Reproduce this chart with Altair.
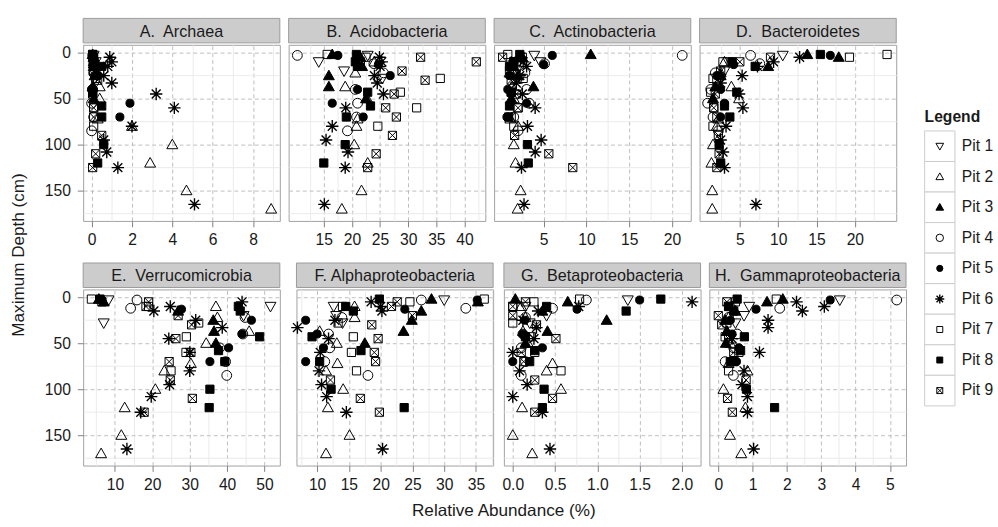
import altair as alt
import pandas as pd

FONT = "Liberation Sans"

pits = [f"Pit {i}" for i in range(1, 10)]

# sampling depths (cm) of each pit
depths = {
    1: [3, 10, 20, 28],
    2: [10, 22, 37, 50, 72, 80, 100, 120, 150, 170],
    3: [2, 5, 15, 25, 37, 50],
    4: [3, 12, 22, 40, 55, 70, 85],
    5: [3, 13, 25, 40, 55, 70],
    6: [5, 10, 15, 25, 33, 45, 60, 80, 95, 108, 125, 165],
    7: [2, 5, 10, 28, 43, 60, 80],
    8: [2, 10, 15, 43, 58, 70, 100, 120],
    9: [5, 10, 20, 30, 45, 60, 70, 90, 110, 125],
}

archaea = {
    1: [0.1, 0.2, 0.1, 0.15],
    2: [0.1, 0.2, 0.4, 0.4, 0.3, 2.0, 4.0, 2.9, 4.7, 8.9],
    3: [0.05, 0.1, 0.1, 0.15, 0.05, 0.1],
    4: [0.05, 0.1, 0.1, 0.05, 0.0, 0.1, 0.0],
    5: [0.05, 0.1, 0.3, 0.0, 1.9, 1.4],
    6: [0.9, 1.0, 0.8, 0.6, 1.0, 3.2, 4.1, 2.0, 0.6, 0.75, 1.3, 5.1],
    7: [0.05, 0.1, 0.1, 0.2, 0.05, 0.1, 0.1],
    8: [0.05, 0.1, 0.5, 0.05, 0.5, 0.5, 0.6, 0.3],
    9: [0.05, 0.1, 0.1, 0.3, 0.05, 0.1, 0.1, 0.5, 0.2, 0.05],
}
acidobacteria = {
    1: [22.8, 14.1, 18.6, 25.4],
    2: [24.0, 20.6, 18.8, 22.7, 21.0, 20.8, 20.4, 22.8, 21.7, 18.2],
    3: [16.5, 21.5, 21.8, 15.9, 15.9, 22.5],
    4: [10.3, 23.9, 25.6, 20.6, 21.0, 20.8, 19.2],
    5: [17.5, 24.7, 26.8, 21.0, 16.5, 22.0],
    6: [24.9, 25.3, 25.0, 24.0, 24.5, 25.6, 18.9, 16.5, 15.4, 19.3, 18.8, 15.1],
    7: [15.6, 22.5, 21.5, 35.7, 28.6, 31.5, 24.6],
    8: [20.8, 20.6, 21.0, 22.8, 23.3, 19.0, 18.8, 15.0],
    9: [32.2, 42.1, 28.9, 33.0, 27.5, 26.0, 27.9, 27.2, 24.3, 22.8],
}
actinobacteria = {
    1: [3.9, 4.6, 1.8, 2.2],
    2: [1.2, 1.0, 1.3, 1.5, 1.1, 2.0, 1.5, 1.7, 2.3, 1.95],
    3: [10.5, 2.5, 1.5, 2.0, 3.8, 1.2],
    4: [21.2, 5.1, 2.8, 3.0, 3.3, 1.5, 2.0],
    5: [6.0, 5.0, 1.0, 0.8, 3.0, 0.7],
    6: [2.3, 2.6, 3.0, 2.2, 1.8, 2.5, 4.0, 3.1, 4.7, 4.0, 2.4, 2.7],
    7: [0.8, 2.5, 1.8, 2.6, 1.2, 2.0, 1.5],
    8: [2.2, 1.5, 1.0, 1.2, 1.0, 0.9, 3.1, 3.2],
    9: [0.2, 1.5, 1.0, 1.2, 1.8, 2.0, 1.2, 1.6, 5.6, 8.4],
}
bacteroidetes = {
    1: [10.6, 3.5, 3.0, 2.5],
    2: [3.0, 2.5, 3.9, 4.9, 2.2, 2.0, 1.5, 1.3, 1.4, 1.4],
    3: [13.8, 17.9, 8.7, 2.5, 1.8, 1.5],
    4: [6.4, 7.6, 1.8, 1.2, 0.8, 1.5, 2.2],
    5: [16.8, 4.2, 2.0, 2.5, 3.0, 2.5],
    6: [12.8, 9.4, 7.3, 5.3, 2.5, 4.9, 5.4, 3.2, 2.5, 2.8, 3.0, 7.1],
    7: [24.2, 19.3, 2.8, 1.5, 1.2, 1.6, 1.5],
    8: [15.5, 4.0, 7.0, 4.6, 3.0, 3.7, 2.3, 2.5],
    9: [9.0, 5.0, 2.5, 2.0, 1.8, 1.6, 2.0, 2.2, 2.3, 2.0],
}
verrucomicrobia = {
    1: [8.3, 51.6, 44.4, 7.0],
    2: [37.0, 37.4, 45.9, 34.4, 30.3, 23.2, 20.8, 12.6, 11.7, 6.3],
    3: [5.7, 7.0, 26.9, 36.3, 36.5, 37.0],
    4: [15.9, 14.2, 44.8, 44.2, 38.0, 39.6, 39.9],
    5: [6.5, 27.8, 46.5, 44.0, 40.4, 35.4],
    6: [44.0, 24.8, 20.4, 31.6, 38.7, 24.4, 30.0, 30.0, 24.6, 19.7, 16.9, 13.2],
    7: [3.7, 6.5, 19.0, 32.4, 29.1, 29.0, 25.0],
    8: [6.0, 43.0, 43.5, 48.7, 37.7, 39.4, 35.4, 35.2],
    9: [19.0, 18.3, 26.9, 30.5, 26.3, 30.3, 24.5, 24.8, 30.7, 17.8],
}
alphaproteobacteria = {
    1: [30.0, 12.6, 13.0, 14.0],
    2: [15.9, 15.9, 10.4, 13.1, 13.2, 11.4, 14.1, 11.7, 15.1, 11.4],
    3: [28.0, 35.3, 26.4, 24.9, 23.6, 17.5],
    4: [26.4, 33.4, 13.9, 11.8, 12.0, 11.2, 18.0],
    5: [35.2, 23.8, 8.2, 10.0, 11.0, 8.2],
    6: [18.5, 20.0, 20.2, 12.8, 6.9, 11.8, 10.5, 10.3, 10.7, 11.5, 14.6, 20.3],
    7: [36.3, 24.6, 14.0, 13.3, 15.7, 15.4, 16.2],
    8: [19.8, 14.5, 15.7, 9.2, 16.9, 10.4, 12.2, 23.7],
    9: [22.6, 21.7, 25.0, 18.6, 19.6, 19.0, 19.2, 12.1, 16.8, 19.8],
}
betaproteobacteria = {
    1: [1.36, 0.15, 0.40, 0.20],
    2: [0.1, 0.15, 0.12, 0.18, 0.47, 0.40, 0.57, 0.11, 0.0, 0.23],
    3: [0.03, 0.65, 0.35, 1.11, 0.41, 0.15],
    4: [0.87, 0.47, 0.15, 0.12, 0.10, 0.15, 0.10],
    5: [1.50, 0.76, 0.14, 0.12, 0.35, 0.0],
    6: [2.12, 0.78, 0.30, 0.12, 0.28, 0.25, 0.0, 0.08, 0.17, 0.0, 0.35, 0.44],
    7: [0.79, 0.25, 0.0, 0.0, 0.22, 0.26, 0.57],
    8: [1.75, 0.40, 1.34, 0.15, 0.26, 0.20, 0.37, 0.35],
    9: [0.15, 0.0, 0.0, 0.28, 0.51, 0.10, 0.13, 0.26, 0.47, 0.26],
}
gammaproteobacteria = {
    1: [3.54, 0.9, 0.75, 0.5],
    2: [0.4, 0.3, 0.25, 0.35, 0.3, 0.85, 0.15, 0.79, 0.34, 0.67],
    3: [1.88, 1.42, 0.5, 0.2, 0.25, 0.22],
    4: [5.2, 1.79, 0.3, 0.55, 0.45, 0.2, 0.44],
    5: [3.26, 1.1, 0.35, 0.4, 0.6, 0.53],
    6: [2.28, 3.09, 2.45, 1.45, 1.45, 0.4, 1.2, 0.75, 0.69, 0.85, 0.85, 1.03],
    7: [1.69, 0.5, 0.3, 0.25, 0.2, 0.6, 0.3],
    8: [0.55, 0.3, 0.45, 0.76, 0.65, 0.35, 0.82, 1.64],
    9: [0.25, 0.3, 0.0, 0.1, 0.3, 0.45, 0.45, 0.81, 0.27, 0.41],
}

panel_titles = [
    "A.\u00a0 Archaea", "B.\u00a0 Acidobacteria", "C.\u00a0 Actinobacteria", "D.\u00a0 Bacteroidetes",
    "E.\u00a0 Verrucomicrobia", "F. Alphaproteobacteria", "G.\u00a0 Betaproteobacteria", "H.\u00a0 Gammaproteobacteria",
]
panel_data = [archaea, acidobacteria, actinobacteria, bacteroidetes,
              verrucomicrobia, alphaproteobacteria, betaproteobacteria, gammaproteobacteria]
x_ticks = [
    [0, 2, 4, 6, 8], [15, 20, 25, 30, 35, 40], [5, 10, 15, 20], [5, 10, 15, 20],
    [10, 20, 30, 40, 50], [10, 15, 20, 25, 30, 35], [0.0, 0.5, 1.0, 1.5, 2.0], [0, 1, 2, 3, 4, 5],
]
x_minor = [
    [1, 3, 5, 7, 9], [12.5, 17.5, 22.5, 27.5, 32.5, 37.5, 42.5], [2.5, 7.5, 12.5, 17.5], [2.5, 7.5, 12.5, 17.5, 22.5],
    [5, 15, 25, 35, 45], [7.5, 12.5, 17.5, 22.5, 27.5, 32.5, 37.5], [0.25, 0.75, 1.25, 1.75], [0.5, 1.5, 2.5, 3.5, 4.5],
]
x_domains = [
    [-0.42, 9.33], [8.75, 43.7], [-0.8, 22.2], [-0.25, 25.4],
    [1.5, 54.1], [6.75, 37.7], [-0.105, 2.22], [-0.26, 5.47],
]
y_major = [0, 50, 100, 150]
y_minor = [25, 75, 125, 175]
y_domain = [-8.5, 183]

shape_paths = [
    "M-1,-0.75L1,-0.75L0,1Z",
    "M-1,0.75L1,0.75L0,-1Z",
    "M-1,0.75L1,0.75L0,-1Z",
    "circle",
    "circle",
    "M-1,0L1,0M0,-1L0,1M-0.72,-0.72L0.72,0.72M-0.72,0.72L0.72,-0.72",
    "M-0.8,-0.8L0.8,-0.8L0.8,0.8L-0.8,0.8Z",
    "M-0.8,-0.8L0.8,-0.8L0.8,0.8L-0.8,0.8Z",
    "M-0.8,-0.8L0.8,-0.8L0.8,0.8L-0.8,0.8ZM-0.8,-0.8L0.8,0.8M-0.8,0.8L0.8,-0.8",
]
fills = ["transparent", "transparent", "black", "transparent", "black",
         "transparent", "transparent", "black", "transparent"]

shape_enc = alt.Shape("pit:N", scale=alt.Scale(domain=pits, range=shape_paths), legend=None)
fill_enc = alt.Fill("pit:N", scale=alt.Scale(domain=pits, range=fills), legend=None)
size_enc = {
    "condition": [
        {"test": "datum.pit == 'Pit 5'", "value": 68},
        {"test": "datum.pit == 'Pit 4'", "value": 100},
        {"test": "datum.pit == 'Pit 6'", "value": 160},
        {"test": "datum.pit == 'Pit 7' || datum.pit == 'Pit 8' || datum.pit == 'Pit 9'", "value": 110},
    ],
    "value": 125,
}
leg_size_enc = {
    "condition": [
        {"test": "datum.pit == 'Pit 5'", "value": 40},
        {"test": "datum.pit == 'Pit 4'", "value": 58},
        {"test": "datum.pit == 'Pit 6'", "value": 85},
        {"test": "datum.pit == 'Pit 7' || datum.pit == 'Pit 8' || datum.pit == 'Pit 9'", "value": 58},
    ],
    "value": 62,
}
stroke_w_enc = {"condition": {"test": "datum.pit == 'Pit 6'", "value": 1.4}, "value": 1}

PW, PH, SH = 201, 180, 25
GRID = "#BDBDBD"
MINOR = "#EBEBEB"
TXT = "#1A1A1A"


def make_df(d):
    rows = []
    for p in range(1, 10):
        for dep, val in zip(depths[p], d[p]):
            rows.append({"pit": f"Pit {p}", "depth": dep, "value": val})
    return pd.DataFrame(rows)


def strip(title):
    df = pd.DataFrame({"t": [title]})
    bg = alt.Chart(df).mark_rect(fill="#CCCCCC", stroke="#9A9A9A", strokeWidth=1).encode(
        x=alt.value(0), x2=alt.value(PW), y=alt.value(0), y2=alt.value(SH))
    tx = alt.Chart(df).mark_text(fontSize=16.5, font=FONT, color=TXT, baseline="middle").encode(
        x=alt.value(PW / 2), y=alt.value(SH / 2 + 1), text="t:N")
    return alt.layer(bg, tx).properties(width=PW, height=SH,
                                        view=alt.ViewBackground(stroke="transparent"))


def panel(i):
    df = make_df(panel_data[i])
    first = i % 4 == 0
    xs = alt.Scale(domain=x_domains[i], nice=False, zero=False)
    ys = alt.Scale(domain=y_domain, reverse=True, nice=False, zero=False)
    minor = alt.Chart(df).mark_point(opacity=0).encode(
        x=alt.X("value:Q", scale=xs, axis=alt.Axis(values=x_minor[i], orient="top", labels=False, ticks=False,
                                                   domain=False, grid=True, gridColor=MINOR, title=None)),
        y=alt.Y("depth:Q", scale=ys, axis=alt.Axis(values=y_minor, orient="right", labels=False, ticks=False,
                                                   domain=False, grid=True, gridColor=MINOR, title=None)),
    )
    pts = alt.Chart(df).mark_point(stroke="black", opacity=1).encode(
        x=alt.X("value:Q", scale=xs,
                axis=alt.Axis(values=x_ticks[i], title=None, grid=True, gridColor=GRID, gridDash=[4, 3],
                              domain=False, tickColor="#7F7F7F", tickSize=6, labelFontSize=16, labelFont=FONT,
                              labelColor=TXT, labelPadding=5, labelFlush=False, labelOverlap=False)),
        y=alt.Y("depth:Q", scale=ys,
                axis=alt.Axis(values=y_major, title=None, grid=True, gridColor=GRID, gridDash=[4, 3],
                              domain=False, labels=first, ticks=first, tickColor="#7F7F7F", tickSize=6,
                              labelFontSize=16, labelFont=FONT, labelColor=TXT, labelPadding=7)),
        shape=shape_enc,
        fill=fill_enc,
        size=size_enc,
        strokeWidth=stroke_w_enc,
    )
    plot = alt.layer(minor, pts).resolve_axis(x="independent", y="independent").properties(
        width=PW, height=PH, view=alt.ViewBackground(stroke="#A0A0A0", fill="white"))
    return alt.vconcat(strip(panel_titles[i]), plot, spacing=0)


row1 = alt.hconcat(*[panel(i) for i in range(4)], spacing=7).resolve_scale(x="independent", y="independent")
row2 = alt.hconcat(*[panel(i) for i in range(4, 8)], spacing=7).resolve_scale(x="independent", y="independent")
grid = alt.vconcat(row1, row2, spacing=14,
                   title=alt.TitleParams("Maximum Depth (cm)", orient="left", anchor="middle", fontSize=17.5,
                                         font=FONT, fontWeight="normal", color=TXT, offset=17)
                   ).resolve_scale(x="independent", y="independent")

# legend
leg_df = pd.DataFrame({"pit": pits})
ly = alt.Y("pit:N", scale=alt.Scale(domain=pits, range=[115, 396], paddingInner=0, paddingOuter=0), axis=None)
boxes = alt.Chart(leg_df).mark_rect(fill="white", stroke="#CCCCCC", strokeWidth=1).encode(
    y=ly, x=alt.value(0), x2=alt.value(31))
syms = alt.Chart(leg_df).mark_point(stroke="black", opacity=1).encode(
    y=ly, x=alt.value(15.5), shape=shape_enc, fill=fill_enc, size=leg_size_enc, strokeWidth=stroke_w_enc)
labs = alt.Chart(leg_df).mark_text(align="left", baseline="middle", fontSize=16, font=FONT, color=TXT).encode(
    y=ly, x=alt.value(38), text="pit:N")
ltitle = alt.Chart(pd.DataFrame({"t": ["Legend"]})).mark_text(
    align="left", baseline="middle", fontSize=16, font=FONT, fontWeight="bold", color=TXT).encode(
    x=alt.value(0), y=alt.value(101), text="t:N")
legend = alt.layer(boxes, syms, labs, ltitle).properties(
    width=74, height=400, view=alt.ViewBackground(stroke="transparent"))

chart = alt.hconcat(grid, legend, spacing=17,
                    title=alt.TitleParams("Relative Abundance (%)", orient="bottom", anchor="middle", fontSize=17.5,
                                          font=FONT, fontWeight="normal", color=TXT, offset=10)
                    ).resolve_scale(x="independent", y="independent").properties(
    padding={"left": 10, "top": 12, "right": 0, "bottom": 2}, background="white"
).configure(font=FONT)

chart.save("out.html", embed_options={"renderer": "svg", "actions": False})
